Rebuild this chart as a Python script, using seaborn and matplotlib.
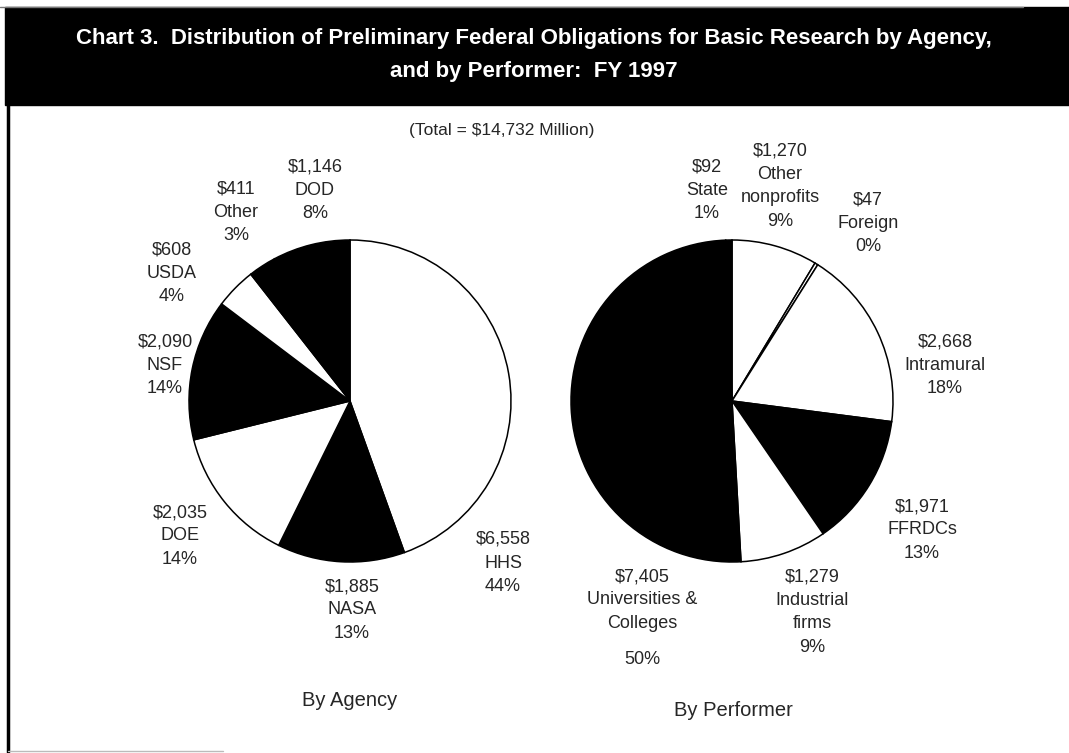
import matplotlib
matplotlib.use("Agg")
import matplotlib.pyplot as plt
from matplotlib.patches import Rectangle
import seaborn as sns

# Data (millions of dollars), clockwise from 12 o'clock
agency_names = ["HHS", "NASA", "DOE", "NSF", "USDA", "Other", "DOD"]
agency_values = [6558, 1885, 2035, 2090, 608, 411, 1146]
agency_pcts = [44, 13, 14, 14, 4, 3, 8]
agency_colors = ["white", "black", "white", "black", "white", "black", "black"]

performer_names = ["Other\nnonprofits", "Foreign", "Intramural", "FFRDCs",
                   "Industrial\nfirms", "Universities &\nColleges", "State"]
performer_values = [1270, 47, 2668, 1971, 1279, 7405, 92]
performer_pcts = [9, 0, 18, 13, 9, 50, 1]
performer_colors = ["white", "white", "white", "black", "white", "black", "black"]

total = 14732

W, H = 1069, 753

sns.set_theme(style="white")
plt.rcParams["font.family"] = ["Liberation Sans", "DejaVu Sans"]

fig = plt.figure(figsize=(W / 100, H / 100), dpi=100)
ax = fig.add_axes([0, 0, 1, 1])


def top(y):
    # image y (from top) -> axes y (from bottom)
    return H - y


wedge_style = dict(edgecolor="black", linewidth=1.1)
ax.pie(agency_values, colors=agency_colors, startangle=90, counterclock=False,
       center=(350, top(401)), radius=161, wedgeprops=wedge_style)
ax.pie(performer_values, colors=performer_colors, startangle=90, counterclock=False,
       center=(732, top(401)), radius=161, wedgeprops=wedge_style)

ax.set_xlim(0, W)
ax.set_ylim(0, H)
ax.set_aspect("equal")
ax.axis("off")

# header band and frame
ax.add_patch(Rectangle((5, top(105)), W - 5, 98, color="black", zorder=0))
ax.plot([0, 1023], [top(7), top(7)], color="#777777", lw=1)
ax.plot([8, 8], [top(105), top(752)], color="black", lw=2.5)
ax.plot([8, 223], [top(751), top(751)], color="#bbbbbb", lw=1)

title_kw = dict(color="white", fontsize=16, fontweight="bold", ha="center", va="center")
ax.text(534, top(38), "Chart 3.  Distribution of Preliminary Federal Obligations for Basic Research by Agency,", **title_kw)
ax.text(534, top(71), "and by Performer:  FY 1997", **title_kw)

ax.text(502, top(130), f"(Total = ${total:,} Million)", fontsize=12.5, ha="center", va="center")

label_kw = dict(fontsize=13, ha="center", va="center", multialignment="center", linespacing=1.5)

agency_label_pos = {
    "HHS": (503, 563), "NASA": (352, 610), "DOE": (180, 536), "NSF": (165, 365),
    "USDA": (172, 273), "Other": (236, 212), "DOD": (315, 190),
}
for name, val, pct in zip(agency_names, agency_values, agency_pcts):
    x, y = agency_label_pos[name]
    ax.text(x, top(y), f"${val:,}\n{name}\n{pct}%", **label_kw)

performer_label_pos = {
    "Other\nnonprofits": (780, 186), "Foreign": (868, 223), "Intramural": (945, 365),
    "FFRDCs": (922, 530), "Industrial\nfirms": (812, 612),
    "Universities &\nColleges": (642, 600), "State": (707, 190),
}
for name, val, pct in zip(performer_names, performer_values, performer_pcts):
    x, y = performer_label_pos[name]
    if name.startswith("Universities"):
        ax.text(x, top(y), f"${val:,}\n{name}", **label_kw)
        ax.text(x, top(660), f"{pct}%", **label_kw)
    else:
        ax.text(x, top(y), f"${val:,}\n{name}\n{pct}%", **label_kw)

ax.text(350, top(700), "By Agency", fontsize=14.5, ha="center", va="center")
ax.text(733, top(711), "By Performer", fontsize=14.5, ha="center", va="center")

fig.savefig("out.png", dpi=100)
